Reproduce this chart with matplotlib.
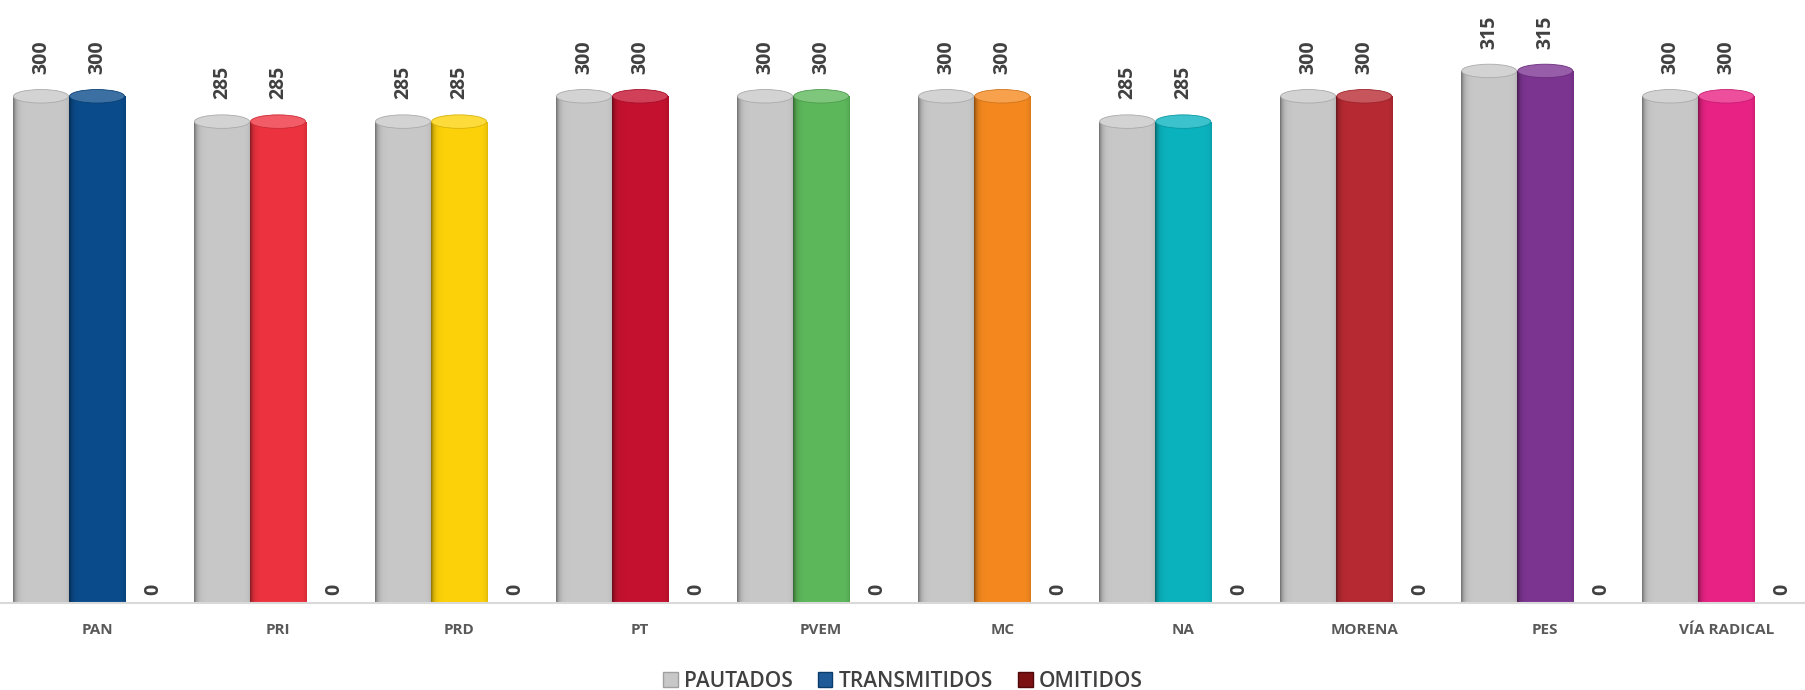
import numpy as np
import matplotlib
matplotlib.use('Agg')
import matplotlib.pyplot as plt
from matplotlib.patches import Ellipse, Patch
from matplotlib.colors import to_rgb

partidos = ['PAN', 'PRI', 'PRD', 'PT', 'PVEM', 'MC', 'NA', 'MORENA', 'PES', 'VÍA RADICAL']
pautados = [300, 285, 285, 300, 300, 300, 285, 300, 315, 300]
transmitidos = [300, 285, 285, 300, 300, 300, 285, 300, 315, 300]
omitidos = [0, 0, 0, 0, 0, 0, 0, 0, 0, 0]
colores = ['#0B4C8C', '#EE3340', '#FDD20A', '#C41230', '#5DB85B',
           '#F5891F', '#0BB3BF', '#B82A33', '#7D3592', '#E92385']
gris = '#C8C8C8'
rojo_omit = '#7B1113'

plt.rcParams['font.family'] = ['Open Sans', 'DejaVu Sans']

fig = plt.figure(figsize=(18.06, 6.9), dpi=100)
ax = fig.add_axes([0, 0.126, 1, 0.874])

x = np.arange(len(partidos))
w = 0.31
b1 = ax.bar(x - w, pautados, w, color=gris, zorder=2)
b2 = ax.bar(x, transmitidos, w, color=colores, zorder=2)
b3 = ax.bar(x + w, omitidos, w, color=rojo_omit, zorder=2)

# sombreado tipo cilindro
t = np.linspace(0, 1, 120)
factor = 1 - 0.45 * np.exp(-t / 0.05) - 0.12 * np.exp(-(1 - t) / 0.04)


def cilindro(barra, color):
    h = barra.get_height()
    if h <= 0:
        return
    x0 = barra.get_x()
    bw = barra.get_width()
    c = np.array(to_rgb(color))
    img = np.clip(c[None, None, :] * factor[None, :, None], 0, 1)
    im = ax.imshow(img, extent=[x0, x0 + bw, 0, h], aspect='auto',
                   interpolation='bilinear', zorder=2.5)
    im.set_clip_path(barra)
    tapa = c * 0.8 + 0.2
    ax.add_patch(Ellipse((x0 + bw / 2, h), bw * 0.98, 8, facecolor=tapa,
                         edgecolor=c * 0.85, lw=0.6, zorder=3))


for barras in (b1, b2, b3):
    for i, barra in enumerate(barras):
        cilindro(barra, barra.get_facecolor())
        v = barra.get_height()
        off = 16 if v > 0 else 6
        ax.annotate(str(int(v)), (barra.get_x() + barra.get_width() / 2, v),
                    xytext=(0, off), textcoords='offset points', rotation=90,
                    ha='center', va='bottom', fontsize=14, fontweight='bold',
                    color='#404040')

ax.set_xlim(-0.536, 9.44)
ax.set_ylim(0, 357)
ax.set_xticks(x)
ax.set_xticklabels(partidos, fontsize=11, fontweight='bold', color='#595959')
ax.tick_params(axis='x', length=0, pad=14)
ax.set_yticks([])
for s in ['top', 'left', 'right']:
    ax.spines[s].set_visible(False)
ax.spines['bottom'].set_color('#D9D9D9')
ax.spines['bottom'].set_linewidth(1.5)

handles = [Patch(facecolor=gris, edgecolor='#A0A0A0'),
           Patch(facecolor='#1F5A99', edgecolor='#0B3C6C'),
           Patch(facecolor=rojo_omit, edgecolor='#500808')]
fig.legend(handles, ['PAUTADOS', 'TRANSMITIDOS', 'OMITIDOS'], loc='center',
           bbox_to_anchor=(0.5, 0.013), ncol=3, frameon=False,
           prop={'size': 15, 'weight': 'semibold'}, labelcolor='#404040',
           handlelength=0.7, handleheight=0.7, handletextpad=0.3,
           columnspacing=1.2)

fig.savefig('out.png', dpi=100)
